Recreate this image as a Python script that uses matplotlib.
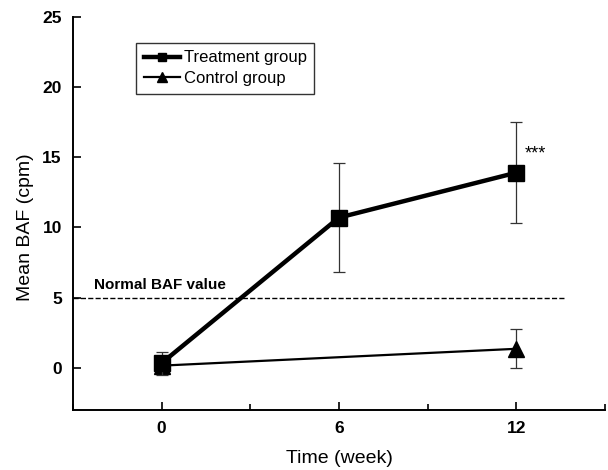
import numpy as np
import matplotlib
matplotlib.use("Agg")
import matplotlib.pyplot as plt
from matplotlib.ticker import MultipleLocator
from matplotlib.lines import Line2D

plt.rcParams['font.family'] = ['Liberation Sans', 'DejaVu Sans']

weeks = [0, 6, 12]
treat_mean = [0.33, 10.7, 13.9]
treat_err = [0.82, 3.9, 3.6]
ctrl_weeks = [0, 12]
ctrl_mean = [0.15, 1.35]
ctrl_err = [0.0, 1.4]
normal_baf = 5

fig = plt.figure(figsize=(6.08, 4.70), dpi=100)
ax = fig.add_axes([0.12, 0.128, 0.875, 0.836])

ax.errorbar(weeks, treat_mean, yerr=treat_err, color='black', lw=3.2,
            marker='s', ms=11, ecolor='#333333', elinewidth=0.9, capsize=4,
            capthick=0.9, zorder=3)
ax.errorbar(ctrl_weeks, ctrl_mean, yerr=ctrl_err, color='black', lw=1.6,
            marker='^', ms=11, ecolor='#333333', elinewidth=0.9, capsize=4,
            capthick=0.9, zorder=2)

ax.plot([-3, 13.6], [normal_baf, normal_baf], ls='--', color='black', lw=1)
ax.text(-2.3, 5.6, 'Normal BAF value', fontsize=11, fontweight='bold')
ax.text(12.3, 14.9, '***', fontsize=13)

ax.set_xlim(-3, 15)
ax.set_ylim(-3, 25)
ax.set_xticks(weeks)
ax.xaxis.set_minor_locator(MultipleLocator(3))
ax.set_yticks([0, 5, 10, 15, 20, 25])
ax.tick_params(axis='both', which='both', direction='in', width=1.2)
ax.tick_params(axis='both', which='major', length=6, labelsize=12.5, pad=8)
ax.tick_params(axis='x', which='minor', length=4)
for lab in ax.get_xticklabels() + ax.get_yticklabels():
    lab.set_fontweight('bold')

for side in ['top', 'right']:
    ax.spines[side].set_visible(False)
for side in ['left', 'bottom']:
    ax.spines[side].set_linewidth(1.4)

ax.set_xlabel('Time (week)', fontsize=14, labelpad=10)
ax.set_ylabel('Mean BAF (cpm)', fontsize=14)
ax.yaxis.set_label_coords(-0.074, 0.465)

handles = [
    Line2D([], [], color='black', lw=3.2, marker='s', ms=6),
    Line2D([], [], color='black', lw=1.6, marker='^', ms=7),
]
leg = ax.legend(handles, ['Treatment group', 'Control group'],
                loc='upper left', bbox_to_anchor=(0.103, 0.955), fontsize=12,
                frameon=True, fancybox=False, edgecolor='black',
                handlelength=2.2, handletextpad=0.2, borderpad=0.45,
                labelspacing=0.35)
leg.get_frame().set_linewidth(1)

fig.savefig('out.png', dpi=100)
